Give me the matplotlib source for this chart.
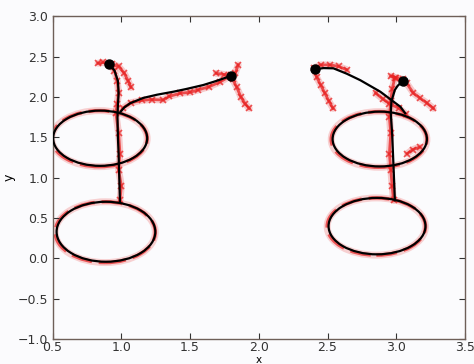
import matplotlib
matplotlib.use('Agg')
import matplotlib.pyplot as plt
from matplotlib.patches import Ellipse

# 笔画轨迹（黑色：平滑后的轨迹；红色：原始采样点）
# 左侧字符
left_a_x = [0.912, 0.95, 0.975, 0.98, 0.975, 0.972, 0.975, 0.98, 0.985, 0.99]
left_a_y = [2.407, 2.33, 2.20, 2.05, 1.90, 1.75, 1.50, 1.30, 1.00, 0.70]
left_b_x = [1.80, 1.69, 1.596, 1.47, 1.378, 1.26, 1.159, 1.063, 1.02, 0.995]
left_b_y = [2.265, 2.20, 2.15, 2.10, 2.067, 2.03, 1.99, 1.923, 1.87, 1.82]
# 右侧字符
right_a_x = [2.409, 2.47, 2.543, 2.64, 2.738, 2.884, 2.96, 3.03, 3.065]
right_a_y = [2.345, 2.36, 2.357, 2.29, 2.21, 2.067, 1.97, 1.88, 1.80]
right_b_x = [3.046, 3.01, 2.99, 2.965, 2.96, 2.97, 2.98, 2.99]
right_b_y = [2.20, 2.14, 2.09, 1.95, 1.80, 1.55, 1.14, 0.72]

# 起笔点
start_x = [0.912, 1.80, 2.409, 3.046]
start_y = [2.407, 2.265, 2.345, 2.20]

# 椭圆：中心、宽、高
ell_cx = [0.846, 0.888, 2.88, 2.86]
ell_cy = [1.49, 0.33, 1.48, 0.40]
ell_w = [0.684, 0.718, 0.686, 0.705]
ell_h = [0.685, 0.744, 0.68, 0.70]

# 红色原始点
red_traces = [
    ([0.83, 0.87, 0.91, 0.95, 0.97, 0.98, 0.97, 0.96, 0.98, 0.99, 0.98, 1.00, 0.99],
     [2.42, 2.43, 2.41, 2.33, 2.20, 2.05, 1.92, 1.80, 1.55, 1.30, 1.10, 0.90, 0.72]),
    ([0.93, 0.98, 1.02, 1.05, 1.07],
     [2.41, 2.38, 2.30, 2.20, 2.12]),
    ([1.93, 1.90, 1.87, 1.84, 1.81, 1.83, 1.85],
     [1.86, 1.92, 2.00, 2.12, 2.22, 2.30, 2.40]),
    ([1.69, 1.75, 1.80, 1.72, 1.64, 1.56, 1.50, 1.426, 1.35, 1.305, 1.22, 1.15, 1.07, 1.01],
     [2.295, 2.28, 2.27, 2.19, 2.13, 2.09, 2.06, 2.047, 2.01, 1.964, 1.97, 1.96, 1.93, 1.86]),
    ([2.54, 2.51, 2.48, 2.45, 2.42, 2.40, 2.45, 2.52, 2.58, 2.64],
     [1.86, 1.95, 2.05, 2.15, 2.25, 2.36, 2.40, 2.40, 2.38, 2.34]),
    ([2.85, 2.90, 2.95, 3.02, 3.07],
     [2.05, 1.98, 1.92, 1.86, 1.79]),
    ([2.96, 3.00, 3.046, 3.076, 3.125, 3.17, 3.22, 3.27],
     [2.26, 2.24, 2.22, 2.17, 2.05, 1.99, 1.93, 1.86]),
    ([2.99, 2.97, 2.96, 2.95, 2.96, 2.95, 2.96, 2.97, 2.98],
     [2.24, 2.10, 1.95, 1.75, 1.55, 1.30, 1.10, 0.90, 0.72]),
    ([3.08, 3.12, 3.17],
     [1.30, 1.35, 1.38]),
]

fig = plt.figure(figsize=(4.74, 3.64), dpi=100, facecolor='#fbfbfd')
ax = fig.add_axes([0.111, 0.0687, 0.870, 0.886], facecolor='#fbfbfd')

# 红色原始点
for cx, cy, w, h in zip(ell_cx, ell_cy, ell_w, ell_h):
    ax.add_patch(Ellipse((cx - 0.005, cy - 0.005), w + 0.01, h + 0.01, fill=False,
                         edgecolor='#f08080', lw=5, alpha=0.35, zorder=1))
    ax.add_patch(Ellipse((cx - 0.005, cy - 0.005), w + 0.01, h + 0.01, fill=False,
                         edgecolor='#e82020', lw=2.5, alpha=0.7, ls=(0, (6, 2)), zorder=1))
for rx, ry in red_traces:
    ax.plot(rx, ry, '-', color='#f08080', lw=5, alpha=0.4, solid_capstyle='round', zorder=1)
    ax.plot(rx, ry, 'x-', color='#e82020', lw=2, ms=4, mew=1.2, alpha=0.75, zorder=2)

# 黑色平滑轨迹
for cx, cy, w, h in zip(ell_cx, ell_cy, ell_w, ell_h):
    ax.add_patch(Ellipse((cx, cy), w, h, fill=False, edgecolor='black', lw=1.6, zorder=3))
for sx, sy in [(left_a_x, left_a_y), (left_b_x, left_b_y),
               (right_a_x, right_a_y), (right_b_x, right_b_y)]:
    ax.plot(sx, sy, '-', color='black', lw=1.6, zorder=3)
ax.plot(start_x, start_y, 'o', color='black', ms=6.5, zorder=4)

ax.set_xlim(0.5, 3.5)
ax.set_ylim(-1.0, 3.0)
ax.set_xticks([0.5, 1.0, 1.5, 2.0, 2.5, 3.0, 3.5])
ax.set_yticks([-1.0, -0.5, 0.0, 0.5, 1.0, 1.5, 2.0, 2.5, 3.0])
ax.tick_params(direction='in', top=True, right=True, length=4, labelsize=9,
               colors='#333333', pad=3)
ax.tick_params(axis='x', pad=1.5)
for sp in ax.spines.values():
    sp.set_color('#6e5f58')
    sp.set_linewidth(1.0)
ax.set_xlabel('x', fontsize=7.5, labelpad=0.5)
ax.set_ylabel('y', fontsize=9, labelpad=2)

fig.savefig('out.png', dpi=100, facecolor=fig.get_facecolor())
